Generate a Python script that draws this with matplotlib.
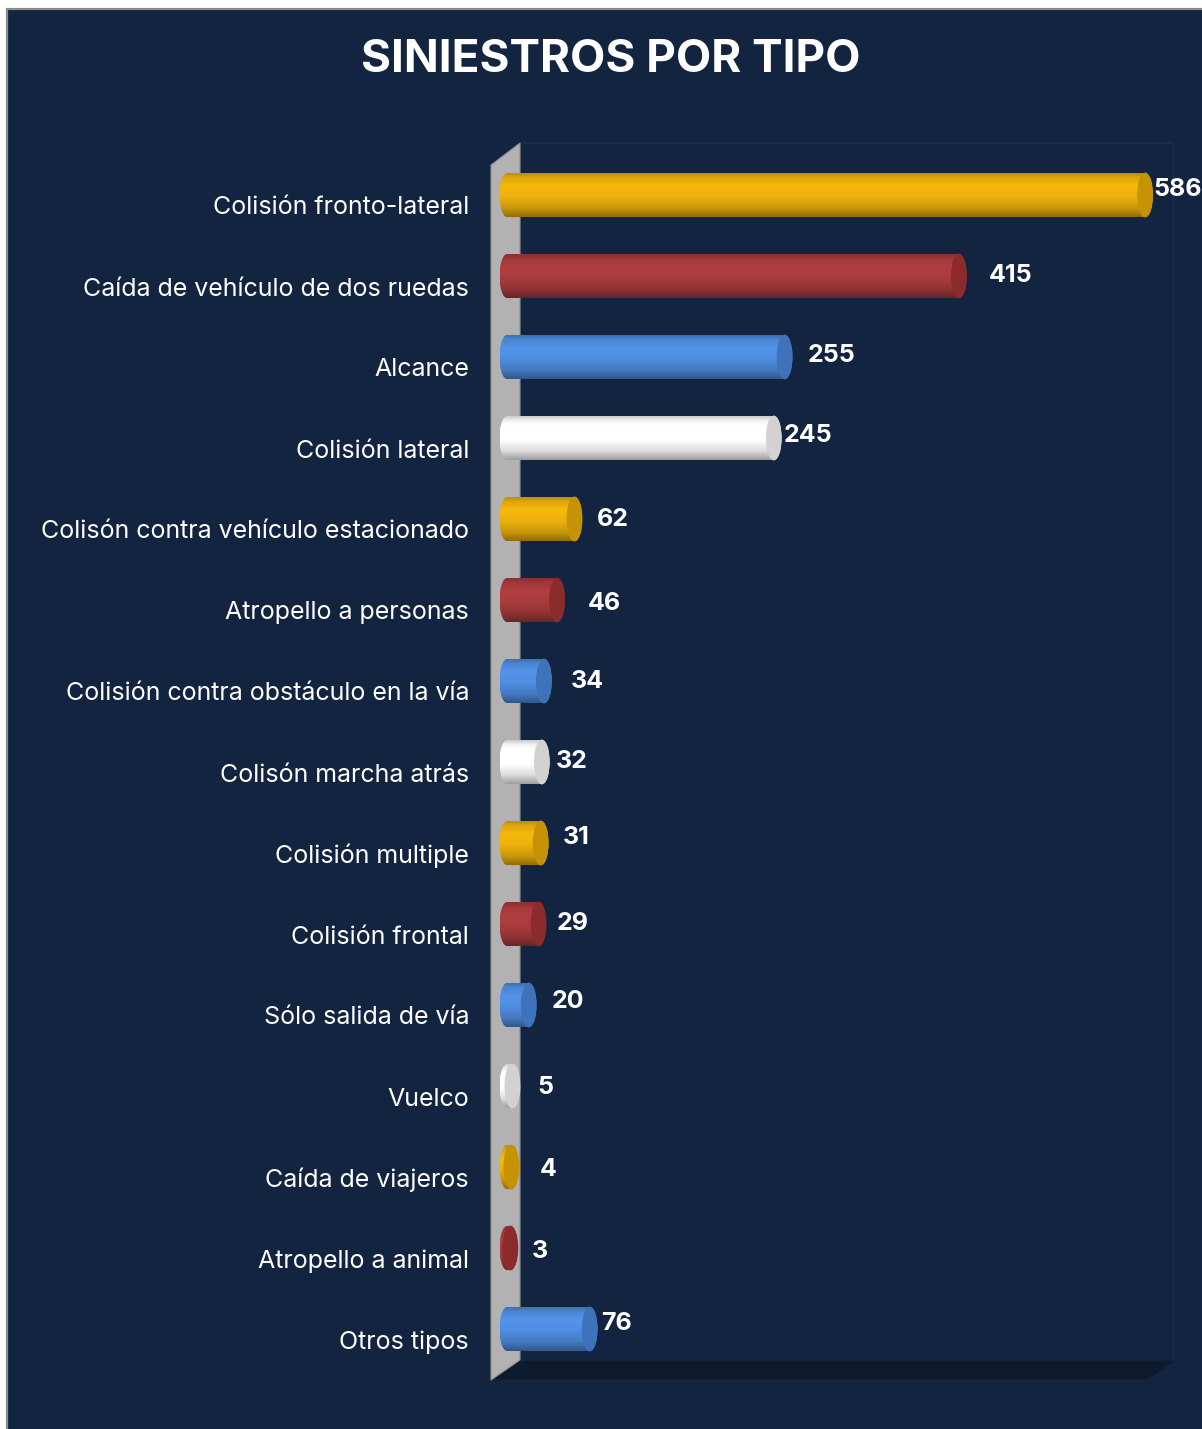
import numpy as np
import matplotlib
matplotlib.use("Agg")
import matplotlib.pyplot as plt
from matplotlib.patches import Polygon, Ellipse, Rectangle
from matplotlib.colors import to_rgb

# ---- data -----------------------------------------------------------------
categories = [
    "Colisión fronto-lateral",
    "Caída de vehículo de dos ruedas",
    "Alcance",
    "Colisión lateral",
    "Colisón contra vehículo estacionado",
    "Atropello a personas",
    "Colisión contra obstáculo en la vía",
    "Colisón marcha atrás",
    "Colisión multiple",
    "Colisión frontal",
    "Sólo salida de vía",
    "Vuelco",
    "Caída de viajeros",
    "Atropello a animal",
    "Otros tipos",
]
values = [586, 415, 255, 245, 62, 46, 34, 32, 31, 29, 20, 5, 4, 3, 76]
title = "SINIESTROS POR TIPO"

# ---- style ----------------------------------------------------------------
NAVY = "#12243f"
FONT = ["Inter", "DejaVu Sans"]
TITLE_FONT = ["Inter", "DejaVu Sans"]
body_colors = ["#ebb00c", "#a93b3d", "#4f8ddf", "#ffffff"]
cap_colors = ["#c69206", "#8b2b2e", "#3e72bb", "#d2d2d2"]
# per-label nudge of the value labels (pixels right, pixels down)
label_nudge = [(1, -5), (22, -1), (15, -2), (2, -2), (15, 1), (23, 3), (19, 0),
               (6, -1), (14, -5), (11, 0), (15, -3), (17, 1), (21, 2), (14, 3),
               (4, -5)]

W, H = 1202, 1429
fig = plt.figure(figsize=(W / 100, H / 100), dpi=100, facecolor="white")


def fx(x):
    return x / W


def fy(y):
    return 1 - y / H


def poly(pts, **kw):
    return Polygon([(fx(x), fy(y)) for x, y in pts], closed=True,
                   transform=fig.transFigure, **kw)


# background panel (frame visible only on the left and top)
fig.patches.append(Rectangle((fx(7), -0.05), 1.1, fy(9) + 0.05,
                             transform=fig.transFigure, facecolor=NAVY,
                             edgecolor="#8c8c8c", lw=1.6, zorder=-5))
# back wall of the plot area
fig.patches.append(poly([(520, 143), (1173, 143), (1173, 1360), (520, 1360)],
                        facecolor="#12243f", edgecolor="#1b2d4a", lw=1.2,
                        zorder=-4))
# floor
fig.patches.append(poly([(520, 1360), (1177, 1360), (1148, 1380), (491, 1380)],
                        facecolor="#0e1a2d", edgecolor="#16243b", lw=1.0,
                        zorder=-3))
# side wall
fig.patches.append(poly([(491, 165), (520, 143), (520, 1360), (491, 1380)],
                        facecolor="#b2b2b2", edgecolor="#8f8f8f", lw=0.8,
                        zorder=-2))

# ---- axes: value 0 sits at x=507px, 1.089 px per unit, rows 81px apart ----
PX0, K = 507.0, 1.089
ROW0, ROWH = 195.0, 81.0
ax = fig.add_axes([fx(490), fy(1380), fx(1172) - fx(490), fy(143) - fy(1380)])
ax.set_facecolor("none")
ax.axis("off")
xlim = ((490 - PX0) / K, (1172 - PX0) / K)
ylim = ((1380 - ROW0) / ROWH, (143 - ROW0) / ROWH)

bar_h = 44.0 / ROWH
a = 7.5 / K  # horizontal semi-axis of the cylinder ends

t = np.linspace(0, 1, 80)
shade = np.interp(t, [0, 0.1, 0.3, 0.55, 0.8, 1.0],
                  [0.80, 0.95, 1.05, 1.0, 0.86, 0.62])

for i, (name, v) in enumerate(zip(categories, values)):
    y = i
    base = np.array(to_rgb(body_colors[i % 4]))
    cap = cap_colors[i % 4]

    # stadium-shaped outline: left half ellipse + body + right half ellipse
    th_l = np.linspace(np.pi / 2, 3 * np.pi / 2, 40)
    th_r = np.linspace(-np.pi / 2, np.pi / 2, 40)
    left = np.column_stack([a * np.cos(th_l), y + bar_h / 2 * np.sin(th_l)])
    right = np.column_stack([v + a * np.cos(th_r), y + bar_h / 2 * np.sin(th_r)])
    outline = Polygon(np.vstack([left, right]), closed=True,
                      facecolor="none", edgecolor="none")
    ax.add_patch(outline)

    grad = np.clip(base[None, None, :] * shade[:, None, None], 0, 1)
    img = ax.imshow(grad, extent=(-a, v + a, y + bar_h / 2, y - bar_h / 2),
                    origin="upper", aspect="auto", interpolation="bilinear",
                    zorder=2)
    img.set_clip_path(outline)

    ax.add_patch(Ellipse((v, y), 2 * a, bar_h, facecolor=cap,
                         edgecolor=cap, lw=0.6, zorder=3))

    # category label
    ax.text((469 - PX0) / K, y + 13 / ROWH, name, ha="right", va="center",
            fontsize=18, color="white", family=FONT, clip_on=False)

    # value label
    dx, dy = label_nudge[i]
    ax.annotate(f"{v}", xy=(v + a, y), xytext=(dx * 0.72, -dy * 0.72),
                textcoords="offset points", ha="left", va="center",
                fontsize=18, fontweight="bold", color="white", family=FONT,
                annotation_clip=False, zorder=4)

ax.set_xlim(*xlim)
ax.set_ylim(*ylim)

fig.text(fx(611), fy(60), title, ha="center", va="center", fontsize=33,
         fontweight="bold", color="white", family=TITLE_FONT)

fig.savefig("out.png", dpi=100, facecolor="white")
